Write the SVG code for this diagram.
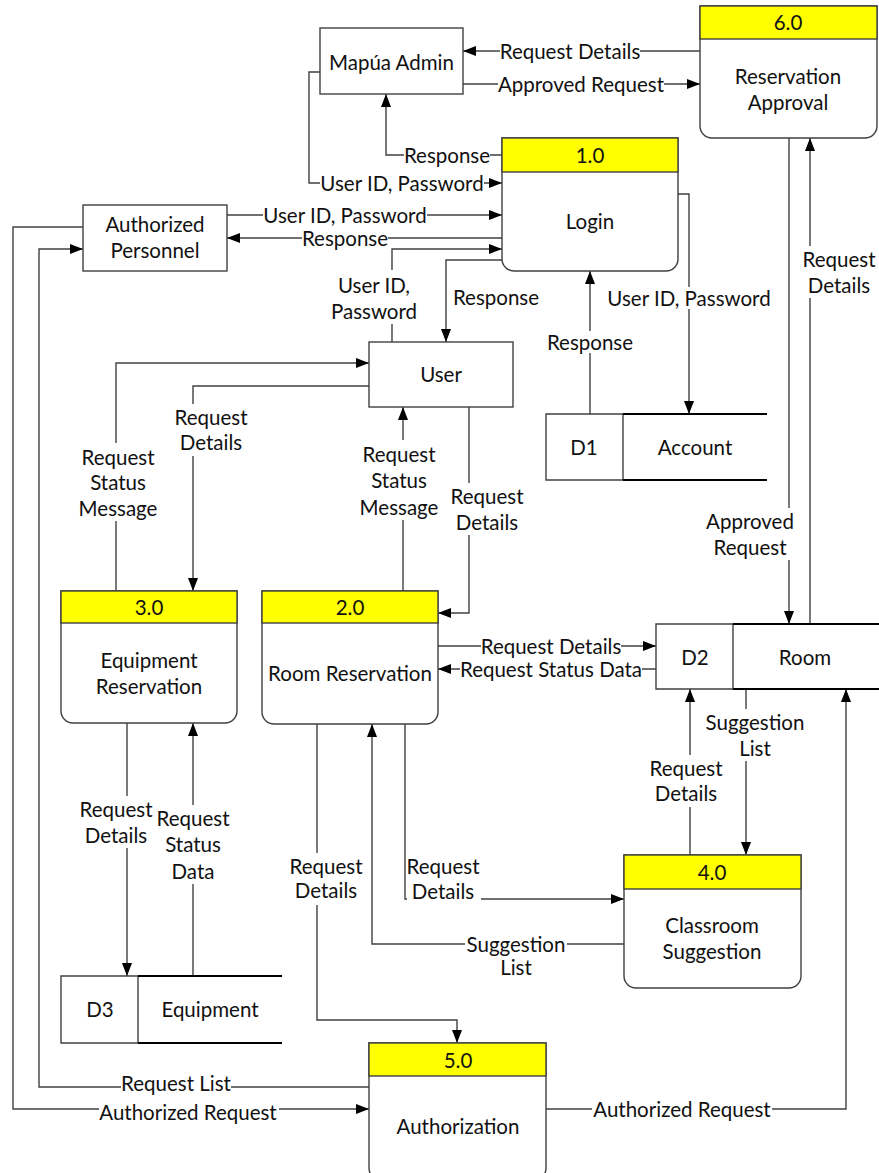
<svg xmlns="http://www.w3.org/2000/svg" width="879" height="1173" viewBox="0 0 879 1173">
<defs>
<marker id="ah" markerUnits="userSpaceOnUse" markerWidth="14" markerHeight="10" refX="13" refY="5" orient="auto">
<path d="M0,0 L13,5 L0,10 Z" fill="#000"/>
</marker>
<style>
.ln{fill:none;stroke:#404040;stroke-width:1.4;marker-end:url(#ah)}
.pl{fill:none;stroke:#404040;stroke-width:1.4}
.box{fill:#fff;stroke:#404040;stroke-width:1.4}
.hdr{fill:#ffff00;stroke:#404040;stroke-width:1.4}
.bg{fill:#fff;stroke:none}
.st{fill:none;stroke:#404040;stroke-width:1.4}
.stb{fill:none;stroke:#000;stroke-width:2.2}
text{font-family:Lato,"Liberation Sans",sans-serif;font-size:20.5px;fill:#111;text-anchor:middle;dominant-baseline:central}
</style>
</defs>
<rect width="879" height="1173" fill="#fff"/>

<g id="connectors">
<path class="ln" d="M700,51 H463"/>
<path class="ln" d="M463,84 H700"/>
<path class="ln" d="M502,155 H386 V94"/>
<path class="ln" d="M320,72 H309 V183 H502"/>
<path class="ln" d="M227,215 H502"/>
<path class="ln" d="M502,238 H227"/>
<path class="ln" d="M392,342 V249 H502"/>
<path class="ln" d="M502,260 H446 V342"/>
<path class="ln" d="M678,194 H689 V414"/>
<path class="ln" d="M590,414 V271"/>
<path class="ln" d="M789,138 V624"/>
<path class="ln" d="M810,624 V138"/>
<path class="ln" d="M116,591 V363 H369"/>
<path class="ln" d="M369,386 H193 V591"/>
<path class="ln" d="M403,591 V407"/>
<path class="ln" d="M469,407 V613 H438"/>
<path class="ln" d="M438,646 H656"/>
<path class="ln" d="M656,669 H438"/>
<path class="ln" d="M690,855 V689"/>
<path class="ln" d="M746,689 V855"/>
<path class="ln" d="M127,723 V976"/>
<path class="ln" d="M193,976 V723"/>
<path class="ln" d="M317,724 V1020 H457 V1043"/>
<path class="ln" d="M405,724 V899 H624"/>
<path class="ln" d="M624,944 H372 V724"/>
<path class="ln" d="M369,1087 H39 V249 H83"/>
<path class="ln" d="M83,227 H13 V1109 H369"/>
<path class="ln" d="M546,1109 H846 V689"/>

<g id="labels">
<rect class="bg" x="500" y="40" width="140" height="22"/><text x="570" y="51">Request Details</text>
<rect class="bg" x="498" y="73" width="166" height="22"/><text x="581" y="84">Approved Request</text>
<rect class="bg" x="404" y="144" width="86" height="22"/><text x="447" y="155">Response</text>
<rect class="bg" x="320" y="172" width="164" height="22"/><text x="402" y="183">User ID, Password</text>
<rect class="bg" x="263" y="204" width="164" height="22"/><text x="345" y="215">User ID, Password</text>
<rect class="bg" x="302" y="228" width="86" height="21"/><text x="345" y="238">Response</text>
<rect class="bg" x="328" y="270" width="92" height="54"/><text x="374" y="285">User ID,</text><text x="374" y="311">Password</text>
<text x="496" y="297">Response</text>
<rect class="bg" x="606" y="287" width="166" height="22"/><text x="689" y="298">User ID, Password</text>
<rect class="bg" x="546" y="331" width="88" height="22"/><text x="590" y="342">Response</text>
<rect class="bg" x="704" y="508" width="92" height="52"/><text x="750" y="521">Approved</text><text x="750" y="547">Request</text>
<rect class="bg" x="801" y="246" width="78" height="52"/><text x="839" y="259">Request</text><text x="839" y="285">Details</text>
<rect class="bg" x="76" y="443" width="84" height="78"/><text x="118" y="457">Request</text><text x="118" y="482">Status</text><text x="118" y="508">Message</text>
<rect class="bg" x="172" y="404" width="78" height="52"/><text x="211" y="417">Request</text><text x="211" y="442">Details</text>
<rect class="bg" x="357" y="440" width="84" height="80"/><text x="399" y="454">Request</text><text x="399" y="480">Status</text><text x="399" y="507">Message</text>
<rect class="bg" x="448" y="483" width="78" height="52"/><text x="487" y="496">Request</text><text x="487" y="522">Details</text>
<rect class="bg" x="481" y="635" width="140" height="22"/><text x="551" y="646">Request Details</text>
<rect class="bg" x="460" y="658" width="182" height="22"/><text x="551" y="669">Request Status Data</text>
<rect class="bg" x="647" y="755" width="78" height="52"/><text x="686" y="768">Request</text><text x="686" y="793">Details</text>
<rect class="bg" x="705" y="709" width="100" height="52"/><text x="755" y="722">Suggestion</text><text x="755" y="748">List</text>
<rect class="bg" x="77" y="796" width="78" height="52"/><text x="116" y="809">Request</text><text x="116" y="835">Details</text>
<rect class="bg" x="155" y="805" width="78" height="79"/><text x="193" y="818">Request</text><text x="193" y="844">Status</text><text x="193" y="871">Data</text>
<rect class="bg" x="287" y="853" width="78" height="52"/><text x="326" y="866">Request</text><text x="326" y="890">Details</text>
<rect class="bg" x="407" y="853" width="74" height="52"/><text x="443" y="866">Request</text><text x="443" y="891">Details</text>
<rect class="bg" x="465" y="931" width="102" height="48"/><text x="516" y="944">Suggestion</text><text x="516" y="967">List</text>
<rect class="bg" x="121" y="1072" width="110" height="22"/><text x="176" y="1083">Request List</text>
<rect class="bg" x="99" y="1100" width="180" height="24"/><text x="188" y="1112">Authorized Request</text>
<rect class="bg" x="592" y="1098" width="180" height="22"/><text x="682" y="1109">Authorized Request</text>
</g>
</g>

<g id="mapua-admin">
<rect class="box" x="320" y="28" width="143" height="66"/>
<text x="391.5" y="62">Mapúa Admin</text>
</g>
<g id="authorized-personnel">
<rect class="box" x="83" y="205" width="144" height="66"/>
<text x="155" y="224">Authorized</text>
<text x="155" y="250">Personnel</text>
</g>
<g id="user">
<rect class="box" x="369" y="342" width="144" height="65"/>
<text x="441" y="374">User</text>
</g>

<g id="p1">
<path class="box" d="M502,138 H678 V259 A12,12 0 0 1 666,271 H514 A12,12 0 0 1 502,259 Z"/>
<rect class="hdr" x="502" y="138" width="176" height="34"/>
<text x="590" y="155">1.0</text>
<text x="590" y="221">Login</text>
</g>
<g id="p6">
<path class="box" d="M700,6 H877 V126 A12,12 0 0 1 865,138 H712 A12,12 0 0 1 700,126 Z"/>
<rect class="hdr" x="700" y="6" width="177" height="33"/>
<text x="788" y="22">6.0</text>
<text x="788" y="76">Reservation</text>
<text x="788" y="102">Approval</text>
</g>
<g id="p3">
<path class="box" d="M61,591 H237 V711 A12,12 0 0 1 225,723 H73 A12,12 0 0 1 61,711 Z"/>
<rect class="hdr" x="61" y="591" width="176" height="32"/>
<text x="149" y="607">3.0</text>
<text x="149" y="660">Equipment</text>
<text x="149" y="686">Reservation</text>
</g>
<g id="p2">
<path class="box" d="M262,591 H438 V712 A12,12 0 0 1 426,724 H274 A12,12 0 0 1 262,712 Z"/>
<rect class="hdr" x="262" y="591" width="176" height="32"/>
<text x="350" y="607">2.0</text>
<text x="350" y="673">Room Reservation</text>
</g>
<g id="p4">
<path class="box" d="M624,855 H801 V976 A12,12 0 0 1 789,988 H636 A12,12 0 0 1 624,976 Z"/>
<rect class="hdr" x="624" y="855" width="177" height="34"/>
<text x="712" y="872">4.0</text>
<text x="712" y="925">Classroom</text>
<text x="712" y="951">Suggestion</text>
</g>
<g id="p5">
<path class="box" d="M369,1043 H546 V1168 A12,12 0 0 1 534,1180 H381 A12,12 0 0 1 369,1168 Z"/>
<rect class="hdr" x="369" y="1043" width="177" height="33"/>
<text x="458" y="1060">5.0</text>
<text x="458" y="1126">Authorization</text>
</g>

<g id="d1">
<path class="st" d="M623,414 H546 V480 H623 M623,414 V480"/>
<path class="stb" d="M623,414 H767 M623,480 H767"/>
<text x="584" y="447">D1</text>
<text x="695" y="447">Account</text>
</g>
<g id="d2">
<path class="st" d="M733,624 H656 V689 H733 M733,624 V689"/>
<path class="stb" d="M733,624 H879 M733,689 H879"/>
<text x="695" y="657">D2</text>
<text x="805" y="657">Room</text>
</g>
<g id="d3">
<path class="st" d="M138,976 H61 V1043 H138 M138,976 V1043"/>
<path class="stb" d="M138,976 H282 M138,1043 H282"/>
<text x="100" y="1009">D3</text>
<text x="210" y="1009">Equipment</text>
</g>
</svg>
